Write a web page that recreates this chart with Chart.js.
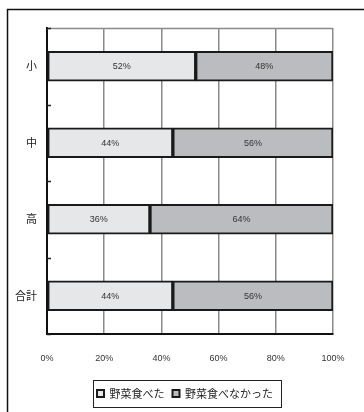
<!DOCTYPE html>
<html>
<head>
<meta charset="utf-8">
<script src="https://cdn.jsdelivr.net/npm/chart.js@4.4.1/dist/chart.umd.min.js"></script>
<style>
  html, body { margin: 0; padding: 0; background: #fff; }
  #wrap { width: 364px; height: 412px; position: relative; }
</style>
</head>
<body>
<div id="wrap"><canvas id="c" width="364" height="412"></canvas></div>
<script>
// 学校区分ごとの野菜摂取の割合
const categories = ['小', '中', '高', '合計'];
const ateVegetables = [52, 44, 36, 44];
const skippedVegetables = [48, 56, 64, 56];
const seriesNames = ['野菜食べた', '野菜食べなかった'];
const xTicks = [0, 20, 40, 60, 80, 100];

const CJK = '"Noto Sans CJK JP", "Noto Sans", sans-serif';
const LATIN = '"Liberation Sans", Arial, sans-serif';

// Page frame, chart-area top rule and inner ticks between categories
const framePlugin = {
  id: 'frame',
  afterDraw(chart) {
    const ctx = chart.ctx;
    const area = chart.chartArea;
    const y = chart.scales.y;
    ctx.save();
    // outer frame (top and left edges)
    ctx.strokeStyle = '#111';
    ctx.lineWidth = 1.5;
    ctx.beginPath();
    ctx.moveTo(7.5, 412);
    ctx.lineTo(7.5, 9.5);
    ctx.lineTo(364, 9.5);
    ctx.stroke();
    // top rule of the plot area
    ctx.strokeStyle = '#8a8a8a';
    ctx.lineWidth = 1.5;
    ctx.beginPath();
    ctx.moveTo(area.left, area.top + 0.5);
    ctx.lineTo(area.right, area.top + 0.5);
    ctx.stroke();
    // short inward ticks at category boundaries
    ctx.strokeStyle = '#222';
    for (let i = 0; i <= categories.length; i++) {
      const py = Math.round(y.getPixelForValue(i - 0.5)) + 0.5;
      ctx.beginPath();
      ctx.moveTo(area.left, py);
      ctx.lineTo(area.left + 4, py);
      ctx.stroke();
    }
    ctx.restore();
  }
};

// Percentage labels centred in each bar segment
const valueLabels = {
  id: 'valueLabels',
  afterDatasetsDraw(chart) {
    const ctx = chart.ctx;
    ctx.save();
    ctx.font = '9px ' + LATIN;
    ctx.fillStyle = '#333';
    ctx.textAlign = 'center';
    ctx.textBaseline = 'middle';
    chart.data.datasets.forEach((ds, di) => {
      chart.getDatasetMeta(di).data.forEach((bar, i) => {
        const p = bar.getProps(['x', 'y', 'base'], true);
        ctx.fillText(ds.data[i] + '%', (p.x + p.base) / 2, p.y + 0.5);
      });
    });
    ctx.restore();
  }
};

// Nudge the legend a little left and frame it
const LEGEND_SHIFT = -5;
const legendBox = {
  id: 'legendBox',
  afterUpdate(chart) {
    const lg = chart.legend;
    if (!lg) return;
    lg.left += LEGEND_SHIFT;
    lg.right += LEGEND_SHIFT;
    (lg.legendHitBoxes || []).forEach(b => { b.left += LEGEND_SHIFT; });
  },
  afterDraw(chart) {
    const boxes = chart.legend && chart.legend.legendHitBoxes;
    if (!boxes || !boxes.length) return;
    const first = boxes[0], last = boxes[boxes.length - 1];
    const left = first.left - 4;
    const right = last.left + last.width + 8;
    const cy = first.top + first.height / 2;
    const ctx = chart.ctx;
    ctx.save();
    ctx.strokeStyle = '#222';
    ctx.lineWidth = 1;
    ctx.strokeRect(Math.round(left) + 0.5, Math.round(cy - 13.5) + 0.5, Math.round(right - left), 27);
    ctx.restore();
  }
};

new Chart(document.getElementById('c'), {
  type: 'bar',
  data: {
    labels: categories,
    datasets: [
      {
        label: seriesNames[0],
        data: ateVegetables,
        backgroundColor: '#e6e7e9',
        borderColor: '#1a1a1a',
        borderWidth: 2,
        borderSkipped: false
      },
      {
        label: seriesNames[1],
        data: skippedVegetables,
        backgroundColor: '#bbbcbf',
        borderColor: '#1a1a1a',
        borderWidth: 2,
        borderSkipped: false
      }
    ]
  },
  options: {
    indexAxis: 'y',
    responsive: false,
    animation: false,
    devicePixelRatio: 1,
    barThickness: 30,
    layout: { padding: { top: 28, right: 31, left: 0, bottom: 3 } },
    scales: {
      x: {
        stacked: true,
        min: 0,
        max: 100,
        afterBuildTicks(scale) { scale.ticks = xTicks.map(v => ({ value: v })); },
        afterFit(scale) { scale.height = 46; },
        ticks: {
          callback: v => v + '%',
          font: { family: LATIN, size: 9 },
          color: '#333',
          padding: 19,
          maxRotation: 0
        },
        grid: {
          color: '#8a8a8a',
          lineWidth: 1.5,
          drawTicks: false
        },
        border: { display: true, color: '#111', width: 2 }
      },
      y: {
        stacked: true,
        afterFit(scale) { scale.width = 47; },
        ticks: {
          font: { family: CJK, size: 11 },
          color: '#222',
          padding: 10
        },
        grid: { display: false, drawTicks: false },
        border: { display: true, color: '#111', width: 2 }
      }
    },
    plugins: {
      legend: {
        position: 'bottom',
        fullSize: false,
        labels: {
          boxWidth: 7,
          boxHeight: 7,
          padding: 8,
          color: '#222',
          font: { family: CJK, size: 11 }
        }
      },
      tooltip: { enabled: false }
    }
  },
  plugins: [framePlugin, valueLabels, legendBox]
});
</script>
</body>
</html>
